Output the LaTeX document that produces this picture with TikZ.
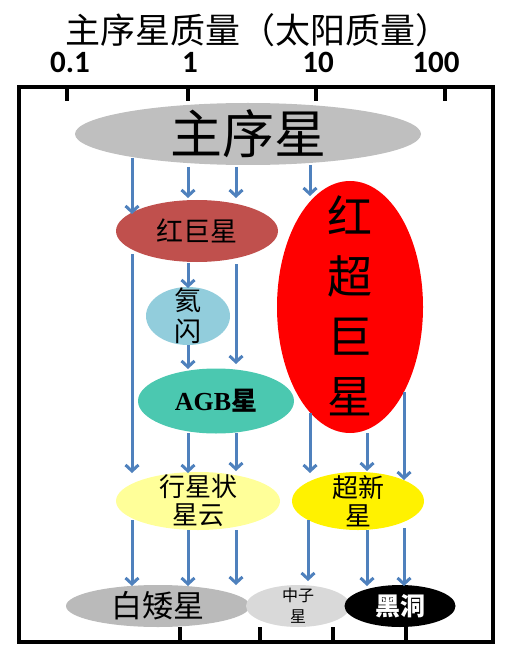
\documentclass[tikz,border=0pt]{standalone}
\usepackage{fontspec}
\setmainfont{Liberation Serif}
\newfontfamily\cjk{Noto Sans CJK SC}
\newfontfamily\numfont{Carlito}
\usetikzlibrary{shapes.geometric,arrows.meta}
\definecolor{arrblue}{RGB}{79,129,189}
\definecolor{msgray}{RGB}{191,191,191}
\definecolor{rgred}{RGB}{192,80,77}
\definecolor{heblue}{RGB}{146,205,220}
\definecolor{agbteal}{RGB}{75,200,176}
\definecolor{pnyellow}{RGB}{255,255,153}
\definecolor{wdgray}{RGB}{186,186,186}
\definecolor{nsgray}{RGB}{217,217,217}
\begin{document}
\begin{tikzpicture}[x=1pt,y=-1pt,
  blob/.style={ellipse,inner sep=0pt},
  lbl/.style={inner sep=0pt,align=center,text=black},
  arr/.style={draw=arrblue,line width=3pt,-{Straight Barb[length=6pt,width=13pt]}},
  frame/.style={line width=3.5pt},
  tick/.style={line width=3.5pt},
  num/.style={font=\numfont\bfseries\fontsize{31}{36}\selectfont}]
\useasboundingbox (0,0) rectangle (513,652);
% title and scale
\node[font=\cjk\fontsize{35}{40}\selectfont] (title) at (258,30) {主序星质量（太阳质量）};
\node[num] (l1) at (70,62) {0.1};
\node[num] (l2) at (190,62) {1};
\node[num] (l3) at (318,62) {10};
\node[num] (l4) at (436,62) {100};
\draw[frame] (19,87) rectangle (493,642);
\draw[tick] (67,87) -- (67,101);
\draw[tick] (188,87) -- (188,101);
\draw[tick] (316,87) -- (316,101);
\draw[tick] (445,87) -- (445,101);
\draw[tick] (180,627) -- (180,642);
\draw[tick] (260,627) -- (260,642);
\draw[tick] (333,627) -- (333,642);
\draw[tick] (406,627) -- (406,642);
% shapes
\node[blob,fill=msgray,minimum width=346,minimum height=62] (ms) at (248,134) {};
\node[blob,fill=rgred,minimum width=162,minimum height=62] (rg) at (197,231) {};
\node[blob,fill=heblue,minimum width=84,minimum height=58] (he) at (188,316) {};
\node[blob,fill=agbteal,minimum width=156,minimum height=65] (agb) at (216,401) {};
\node[blob,fill=red,minimum width=146,minimum height=252] (rsg) at (350,307) {};
\node[blob,fill=pnyellow,minimum width=164,minimum height=58] (pn) at (198,501) {};
\node[blob,fill=yellow,minimum width=132,minimum height=58] (sn) at (358,501) {};
\node[blob,fill=wdgray,minimum width=184,minimum height=42] (wd) at (158,606) {};
\node[blob,fill=nsgray,minimum width=104,minimum height=42] (ns) at (298,606) {};
\node[blob,fill=black,minimum width=111,minimum height=42] (bh) at (400,606) {};
% labels
\node[lbl,font=\cjk\fontsize{52}{56}\selectfont] (tms) at (ms.center) {主序星};
\node[lbl,font=\cjk\fontsize{27}{30}\selectfont] (trg) at (rg.center) {红巨星};
\node[lbl,font=\cjk\fontsize{27}{31}\selectfont] (the) at (he.center) {氦\\闪};
\node[lbl,font=\bfseries\fontsize{26}{30}\selectfont] (tagb) at (agb.center) {AGB{\cjk 星}};
\node[lbl,font=\cjk\fontsize{45}{60}\selectfont] (trsg) at ([yshift=1]rsg.center) {红\\超\\巨\\星};
\node[lbl,font=\cjk\fontsize{26}{28}\selectfont] (tpn) at (pn.center) {行星状\\星云};
\node[lbl,font=\cjk\fontsize{26}{28}\selectfont] (tsn) at (sn.center) {超新\\星};
\node[lbl,font=\cjk\fontsize{31}{34}\selectfont] (twd) at (wd.center) {白矮星};
\node[lbl,font=\cjk\fontsize{16}{21}\selectfont] (tns) at (ns.center) {中子\\星};
\node[lbl,text=white,font=\cjk\bfseries\fontsize{25}{28}\selectfont] (tbh) at (bh.center) {黑洞};
% arrows from main sequence
\draw[arr] (132,158) -- (132,214);
\draw[arr] (188,167) -- (188,198);
\draw[arr] (236,167) -- (236,198);
\draw[arr] (310,165) -- (310,196);
% from red giant
\draw[arr] (132,254) -- (132,473);
\draw[arr] (188,263) -- (188,288);
\draw[arr] (236,264) -- (236,364);
% from He flash
\draw[arr] (188,345) -- (188,369);
% from AGB
\draw[arr] (188,433) -- (188,473);
\draw[arr] (236,433) -- (236,471);
% from red supergiant
\draw[arr] (310,413) -- (310,473);
\draw[arr] (367,433) -- (367,471);
\draw[arr] (404,392) -- (404,480);
% to remnants
\draw[arr] (132,520) -- (132,586);
\draw[arr] (188,530) -- (188,586);
\draw[arr] (236,530) -- (236,585);
\draw[arr] (308,520) -- (308,581);
\draw[arr] (367,530) -- (367,586);
\draw[arr] (404,528) -- (404,586);
\end{tikzpicture}
\end{document}
